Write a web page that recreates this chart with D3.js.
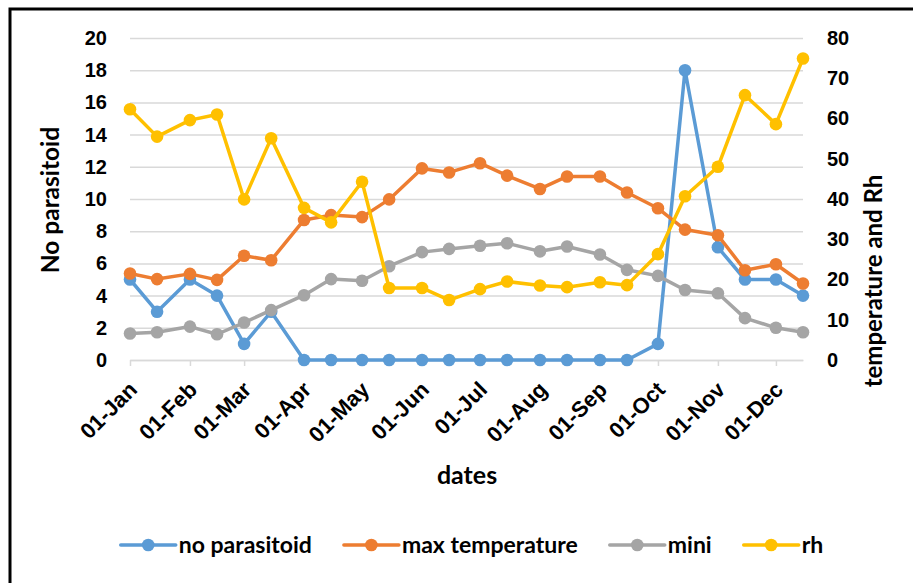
<!DOCTYPE html>
<html lang="en">
<head>
    <meta charset="UTF-8">
    <title>Parasitoid and weather</title>
    <script src="https://d3js.org/d3.v7.min.js"></script>
    <style>
        body {
            margin: 0;
            background: #fff;
        }
        svg {
            display: block;
            font-family: Lato, "Open Sans", sans-serif;
            font-weight: bold;
        }
    </style>
</head>
<body>
    <svg id="chart" width="913" height="583"></svg>

    <script>
        // data, sampled on the 1st and 15th of each month
        const dates = ["2019-01-01", "2019-01-15", "2019-02-01", "2019-02-15", "2019-03-01", "2019-03-15",
            "2019-04-01", "2019-04-15", "2019-05-01", "2019-05-15", "2019-06-01", "2019-06-15",
            "2019-07-01", "2019-07-15", "2019-08-01", "2019-08-15", "2019-09-01", "2019-09-15",
            "2019-10-01", "2019-10-15", "2019-11-01", "2019-11-15", "2019-12-01", "2019-12-15"];
        const noParasitoid = [5, 3, 5, 4, 1, 3, 0, 0, 0, 0, 0, 0, 0, 0, 0, 0, 0, 0, 1, 18, 7, 5, 5, 4];
        const maxTemperature = [21.5, 20.1, 21.4, 19.9, 25.9, 24.8, 34.8, 36, 35.5, 39.9, 47.6, 46.6,
            48.9, 45.8, 42.5, 45.6, 45.6, 41.6, 37.7, 32.4, 31, 22.3, 23.8, 19];
        const mini = [6.6, 6.9, 8.3, 6.4, 9.3, 12.4, 16.1, 20.1, 19.7, 23.3, 26.8, 27.6,
            28.4, 29, 27, 28.2, 26.2, 22.4, 20.9, 17.4, 16.6, 10.4, 8, 6.9];
        const rh = [62.3, 55.5, 59.6, 61, 39.9, 55.1, 37.8, 34.2, 44.3, 17.9, 17.9, 14.9,
            17.6, 19.5, 18.5, 18.1, 19.3, 18.6, 26.3, 40.7, 48, 65.8, 58.6, 74.9];

        const leftTicks = [0, 2, 4, 6, 8, 10, 12, 14, 16, 18, 20];
        const rightTicks = [0, 10, 20, 30, 40, 50, 60, 70, 80];
        const monthTicks = ["2019-01-01", "2019-02-01", "2019-03-01", "2019-04-01", "2019-05-01", "2019-06-01",
            "2019-07-01", "2019-08-01", "2019-09-01", "2019-10-01", "2019-11-01", "2019-12-01"];

        const seriesNames = ["no parasitoid", "max temperature", "mini", "rh"];
        const colors = ["#5B9BD5", "#ED7D31", "#A5A5A5", "#FFC000"];

        const parse = d3.timeParse("%Y-%m-%d");
        const plot = {left: 130, right: 803, top: 38, bottom: 360};

        const svg = d3.select("#chart");

        // outer frame (cut off at right and bottom like the picture)
        svg.append("rect")
            .attr("x", 10).attr("y", 9)
            .attr("width", 1000).attr("height", 1000)
            .attr("fill", "none")
            .attr("stroke", "#000")
            .attr("stroke-width", 3);

        // scales
        const x = d3.scaleTime()
            .domain([parse(dates[0]), parse(dates[dates.length - 1])])
            .range([plot.left, plot.right]);
        const yLeft = d3.scaleLinear().domain([0, 20]).range([plot.bottom, plot.top]);
        const yRight = d3.scaleLinear().domain([0, 80]).range([plot.bottom, plot.top]);

        // gridlines
        svg.append("g")
            .attr("transform", `translate(${plot.left},0)`)
            .call(d3.axisLeft(yLeft).tickValues(leftTicks).tickSize(-(plot.right - plot.left)).tickFormat(""))
            .call(g => g.select(".domain").remove())
            .call(g => g.selectAll("line").attr("stroke", "#d9d9d9").attr("stroke-width", 1.5));

        // x axis
        const xAxis = svg.append("g")
            .attr("transform", `translate(0,${plot.bottom})`)
            .call(d3.axisBottom(x)
                .tickValues(monthTicks.map(parse))
                .tickFormat(d3.timeFormat("%d-%b"))
                .tickSize(6)
                .tickSizeOuter(0));
        xAxis.select(".domain").attr("stroke", "#d9d9d9").attr("stroke-width", 1.5);
        xAxis.selectAll(".tick line").attr("stroke", "#d9d9d9").attr("stroke-width", 1.5);
        xAxis.selectAll(".tick text")
            .attr("fill", "#000")
            .style("font-size", "22px")
            .attr("text-anchor", "end")
            .attr("dy", 0)
            .attr("y", 0)
            .attr("transform", "translate(8,31) rotate(-45)");

        // left axis
        svg.append("g")
            .attr("transform", `translate(${plot.left},0)`)
            .call(d3.axisLeft(yLeft).tickValues(leftTicks).tickSize(0).tickPadding(23))
            .call(g => g.select(".domain").remove())
            .call(g => g.selectAll("text").attr("fill", "#000").style("font-size", "20px"));

        // right axis
        svg.append("g")
            .attr("transform", `translate(${plot.right},0)`)
            .call(d3.axisRight(yRight).tickValues(rightTicks).tickSize(0).tickPadding(24))
            .call(g => g.select(".domain").remove())
            .call(g => g.selectAll("text").attr("fill", "#000").style("font-size", "20px"));

        // axis titles
        svg.append("text")
            .attr("transform", "translate(59,200) rotate(-90)")
            .attr("text-anchor", "middle")
            .style("font-size", "24.5px")
            .text("No parasitoid");
        svg.append("text")
            .attr("transform", "translate(882,281) rotate(-90)")
            .attr("text-anchor", "middle")
            .style("font-size", "24px")
            .text("temperature and Rh");
        svg.append("text")
            .attr("x", 467).attr("y", 484)
            .attr("text-anchor", "middle")
            .style("font-size", "25px")
            .text("dates");

        // series
        const series = [
            {values: noParasitoid, y: yLeft},
            {values: maxTemperature, y: yRight},
            {values: mini, y: yRight},
            {values: rh, y: yRight}
        ];

        series.forEach((s, i) => {
            const pts = dates.map((d, j) => ({date: parse(d), value: s.values[j]}));
            const line = d3.line().x(d => x(d.date)).y(d => s.y(d.value));
            const g = svg.append("g");
            g.append("path")
                .datum(pts)
                .attr("d", line)
                .attr("fill", "none")
                .attr("stroke", colors[i])
                .attr("stroke-width", 3.5)
                .attr("stroke-linejoin", "round");
            g.selectAll("circle")
                .data(pts)
                .enter()
                .append("circle")
                .attr("cx", d => x(d.date))
                .attr("cy", d => s.y(d.value))
                .attr("r", 6.3)
                .attr("fill", colors[i]);
        });

        // legend
        const legendY = 545;
        const legend = svg.append("g");
        let cursor = 0;
        seriesNames.forEach((name, i) => {
            const item = legend.append("g").attr("transform", `translate(${cursor},0)`);
            item.append("line")
                .attr("x1", 0).attr("x2", 55)
                .attr("y1", legendY).attr("y2", legendY)
                .attr("stroke", colors[i])
                .attr("stroke-width", 3.5)
                .attr("stroke-linecap", "round");
            item.append("circle")
                .attr("cx", 27.5).attr("cy", legendY).attr("r", 6.3)
                .attr("fill", colors[i]);
            const t = item.append("text")
                .attr("x", 58).attr("y", legendY + 8)
                .style("font-size", "23px")
                .text(name);
            cursor += 58 + t.node().getComputedTextLength() + 32;
        });
        const legendWidth = cursor - 32;
        legend.attr("transform", `translate(${472 - legendWidth / 2},0)`);
    </script>
</body>
</html>
